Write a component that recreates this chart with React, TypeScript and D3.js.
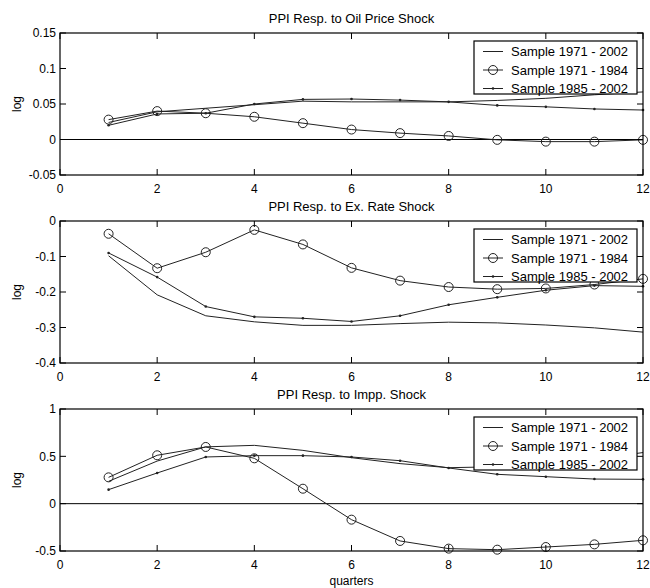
import React from "react";
import * as d3 from "d3";

const quarters = [1, 2, 3, 4, 5, 6, 7, 8, 9, 10, 11, 12];
const seriesNames = ["Sample 1971 - 2002", "Sample 1971 - 1984", "Sample 1985 - 2002"];

// Panel 1: PPI Resp. to Oil Price Shock
const oilFull = [0.024, 0.039, 0.044, 0.049, 0.054, 0.053, 0.053, 0.053, 0.055, 0.058, 0.063, 0.067];
const oilEarly = [0.028, 0.040, 0.037, 0.032, 0.023, 0.014, 0.009, 0.005, -0.0005, -0.003, -0.003, -0.0005];
const oilLate = [0.020, 0.036, 0.037, 0.050, 0.0565, 0.057, 0.0555, 0.053, 0.048, 0.046, 0.043, 0.0415];

// Panel 2: PPI Resp. to Ex. Rate Shock
const exFull = [-0.098, -0.208, -0.267, -0.284, -0.294, -0.294, -0.289, -0.285, -0.287, -0.293, -0.301, -0.313];
const exEarly = [-0.036, -0.133, -0.088, -0.025, -0.066, -0.132, -0.168, -0.186, -0.192, -0.19, -0.179, -0.163];
const exLate = [-0.09, -0.158, -0.241, -0.27, -0.274, -0.283, -0.267, -0.236, -0.215, -0.195, -0.182, -0.184];

// Panel 3: PPI Resp. to Impp. Shock
const impFull = [0.236, 0.45, 0.6, 0.616, 0.563, 0.486, 0.423, 0.38, 0.39, 0.42, 0.47, 0.54];
const impEarly = [0.278, 0.511, 0.599, 0.479, 0.158, -0.169, -0.394, -0.475, -0.486, -0.458, -0.43, -0.387];
const impLate = [0.148, 0.324, 0.493, 0.507, 0.507, 0.493, 0.454, 0.377, 0.31, 0.285, 0.26, 0.257];

const xTicks = [0, 2, 4, 6, 8, 10, 12];

const panels = [
  { title: "PPI Resp. to Oil Price Shock", domain: [-0.05, 0.15], ticks: [-0.05, 0, 0.05, 0.1, 0.15], labels: ["-0.05", "0", "0.05", "0.1", "0.15"], series: [oilFull, oilEarly, oilLate], zero: true, top: 33 },
  { title: "PPI Resp. to Ex. Rate Shock", domain: [-0.4, 0], ticks: [-0.4, -0.3, -0.2, -0.1, 0], labels: ["-0.4", "-0.3", "-0.2", "-0.1", "0"], series: [exFull, exEarly, exLate], zero: false, top: 221 },
  { title: "PPI Resp. to Impp. Shock", domain: [-0.5, 1], ticks: [-0.5, 0, 0.5, 1], labels: ["-0.5", "0", "0.5", "1"], series: [impFull, impEarly, impLate], zero: true, top: 409 },
];

const LEFT = 60;
const RIGHT = 643;
const H = 142;
const FONT = "Liberation Sans, Arial, Helvetica, sans-serif";
const TICK = 6;

function Panel({ p, isLast }: { p: any; isLast: boolean }) {
  const x = d3.scaleLinear().domain([0, 12]).range([LEFT, RIGHT]);
  const y = d3.scaleLinear().domain(p.domain).range([p.top + H, p.top]);
  const line = d3
    .line<number>()
    .x((_, i) => x(quarters[i]))
    .y((d) => y(d));
  const bottom = p.top + H;
  const lx = 474;
  const ly = p.top + 8;
  const rows = [18.5, 37, 55.5];
  return (
    <g>
      <text x={(LEFT + RIGHT) / 2} y={p.top - 10} textAnchor="middle" fontSize={13} fontFamily={FONT}>
        {p.title}
      </text>
      {p.zero && <line x1={x(0)} x2={x(12)} y1={y(0)} y2={y(0)} stroke="#000" strokeWidth={1} />}
      <path d={line(p.series[0]) || ""} fill="none" stroke="#222" strokeWidth={1} />
      <path d={line(p.series[1]) || ""} fill="none" stroke="#222" strokeWidth={1} />
      <path d={line(p.series[2]) || ""} fill="none" stroke="#222" strokeWidth={1} />
      {p.series[1].map((v: number, i: number) => (
        <circle key={"c" + i} cx={x(quarters[i])} cy={y(v)} r={4.5} fill="none" stroke="#222" strokeWidth={1} />
      ))}
      {p.series[2].map((v: number, i: number) => (
        <circle key={"d" + i} cx={x(quarters[i])} cy={y(v)} r={1.3} fill="#222" />
      ))}
      <rect x={LEFT} y={p.top} width={RIGHT - LEFT} height={H} fill="none" stroke="#000" strokeWidth={1.2} />
      {xTicks.map((t) => (
        <g key={"x" + t}>
          <line x1={x(t)} x2={x(t)} y1={bottom} y2={bottom - TICK} stroke="#000" />
          <line x1={x(t)} x2={x(t)} y1={p.top} y2={p.top + TICK} stroke="#000" />
          <text x={x(t)} y={bottom + 18} textAnchor="middle" fontSize={12} fontFamily={FONT}>
            {t}
          </text>
        </g>
      ))}
      {p.ticks.map((t: number, i: number) => (
        <g key={"y" + i}>
          <line x1={LEFT} x2={LEFT + TICK} y1={y(t)} y2={y(t)} stroke="#000" />
          <line x1={RIGHT} x2={RIGHT - TICK} y1={y(t)} y2={y(t)} stroke="#000" />
          <text x={LEFT - 4} y={y(t) + 4.3} textAnchor="end" fontSize={12} fontFamily={FONT}>
            {p.labels[i]}
          </text>
        </g>
      ))}
      <text
        transform={`translate(21, ${p.top + H / 2}) rotate(-90)`}
        textAnchor="middle"
        fontSize={12}
        fontFamily={FONT}
      >
        log
      </text>
      <rect x={lx} y={ly} width={163} height={53} fill="#fff" stroke="#000" strokeWidth={1.2} />
      {seriesNames.map((name, i) => (
        <g key={"l" + i}>
          <line x1={lx + 9} x2={lx + 29} y1={p.top + rows[i]} y2={p.top + rows[i]} stroke="#222" />
          {i === 1 && <circle cx={lx + 19} cy={p.top + rows[i]} r={4.5} fill="none" stroke="#222" />}
          {i === 2 && <circle cx={lx + 19} cy={p.top + rows[i]} r={1.3} fill="#222" />}
          <text x={lx + 37} y={p.top + rows[i] + 4.5} fontSize={13} fontFamily={FONT}>
            {name}
          </text>
        </g>
      ))}
      {isLast && (
        <text x={(LEFT + RIGHT) / 2} y={585} textAnchor="middle" fontSize={12} fontFamily={FONT}>
          quarters
        </text>
      )}
    </g>
  );
}

export default function App() {
  return (
    <svg
      width={650}
      height={588}
      style={{ position: "absolute", left: 0, top: 0, background: "#fff" }}
    >
      <rect x={0} y={0} width={650} height={588} fill="#fff" />
      {panels.map((p, i) => (
        <Panel key={i} p={p} isLast={i === panels.length - 1} />
      ))}
    </svg>
  );
}
